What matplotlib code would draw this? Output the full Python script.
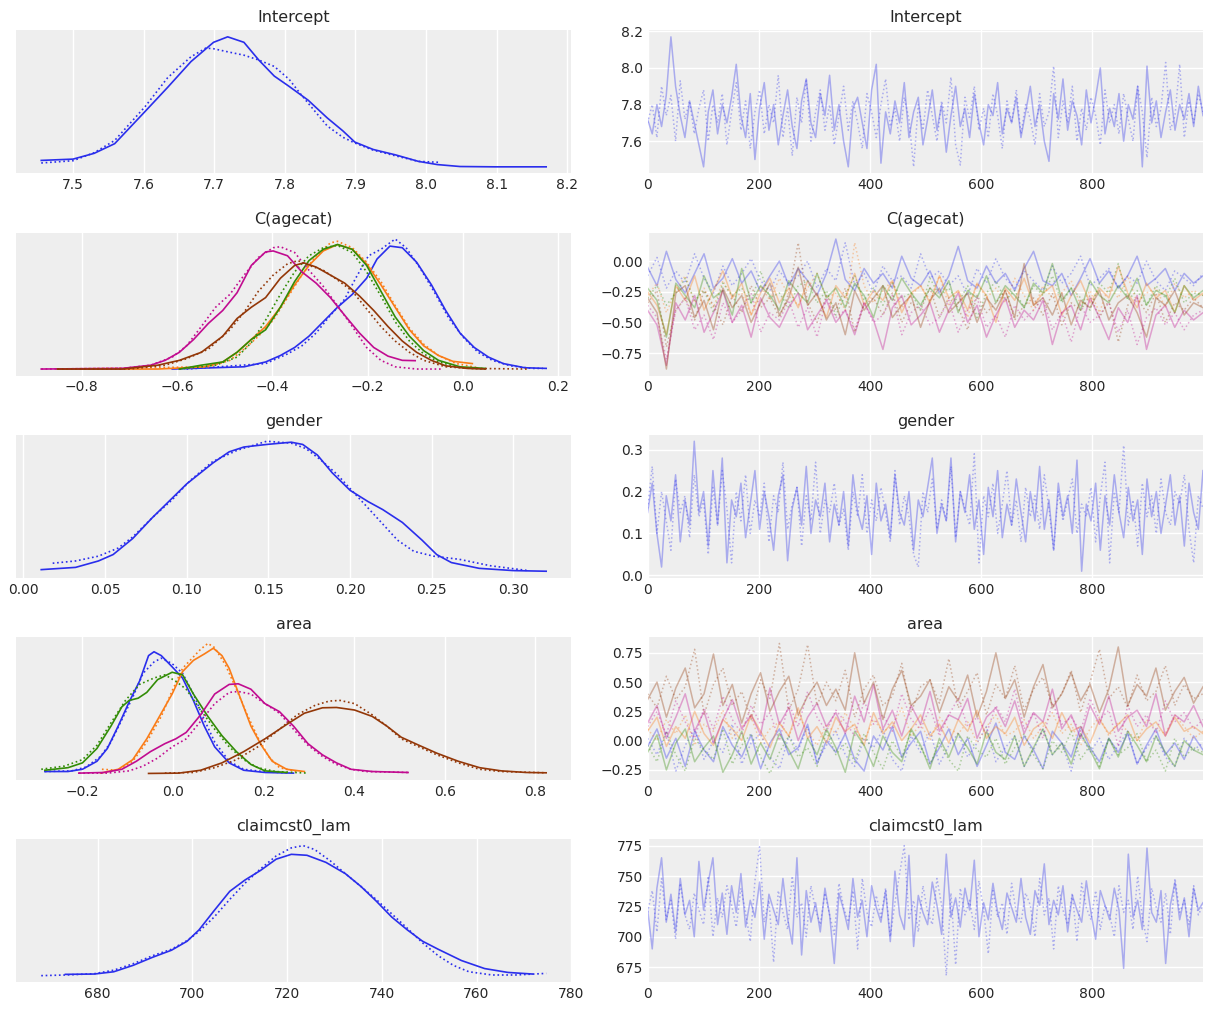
import numpy as np
import matplotlib.pyplot as plt

# arviz-like colour cycle, one colour per coordinate of a variable
colors = ["#2a2eec", "#fa7c17", "#328c06", "#c10c90", "#933708"]
titles = ["Intercept", "C(agecat)", "gender", "area", "claimcst0_lam"]

# ---------------- KDE curves (left column), [chain0, chain1] per coordinate ----------------
intercept_kde_x = [[
    [7.455, 7.500, 7.530, 7.559, 7.602, 7.634, 7.667, 7.699, 7.719, 7.742, 7.763, 7.785,
     7.806, 7.833, 7.860, 7.882, 7.899, 7.925, 7.957, 7.989, 8.016, 8.048, 8.097, 8.170],
    [7.455, 7.500, 7.530, 7.559, 7.602, 7.634, 7.667, 7.688, 7.699, 7.720, 7.742, 7.763,
     7.785, 7.806, 7.822, 7.839, 7.860, 7.882, 7.899, 7.925, 7.957, 7.989, 8.019],
]]
intercept_kde_y = [[
    [45, 49, 67, 97, 197, 272, 352, 412, 429, 412, 357, 307,
     275, 232, 177, 137, 102, 79, 62, 42, 32, 26, 25, 25],
    [37, 44, 69, 107, 212, 302, 367, 394, 392, 382, 372, 357,
     337, 297, 252, 207, 152, 117, 99, 77, 59, 42, 39],
]]

agecat_kde_x = [
    [[-0.610, -0.459, -0.414, -0.383, -0.353, -0.323, -0.293, -0.263, -0.232, -0.202, -0.180,
      -0.153, -0.127, -0.097, -0.066, -0.036, -0.006, 0.024, 0.054, 0.085, 0.130, 0.175],
     [-0.580, -0.414, -0.368, -0.338, -0.308, -0.278, -0.248, -0.225, -0.198, -0.172, -0.142,
      -0.119, -0.089, -0.059, -0.029, 0.002, 0.032, 0.062, 0.100, 0.145, 0.168]],
    [[-0.851, -0.640, -0.542, -0.504, -0.474, -0.444, -0.414, -0.383, -0.353, -0.323, -0.293,
      -0.263, -0.232, -0.202, -0.172, -0.142, -0.112, -0.082, -0.051, -0.021, 0.020],
     [-0.851, -0.534, -0.489, -0.459, -0.429, -0.398, -0.368, -0.338, -0.308, -0.278, -0.263,
      -0.232, -0.202, -0.172, -0.142, -0.112, -0.082, -0.051, -0.014, 0.032]],
    [[-0.595, -0.549, -0.504, -0.474, -0.444, -0.414, -0.383, -0.353, -0.323, -0.293, -0.263,
      -0.232, -0.202, -0.172, -0.142, -0.112, -0.082, -0.051, -0.006, 0.047],
     [-0.595, -0.519, -0.474, -0.444, -0.414, -0.383, -0.353, -0.323, -0.293, -0.263, -0.232,
      -0.202, -0.172, -0.142, -0.112, -0.082, -0.051, -0.006, 0.047]],
    [[-0.885, -0.715, -0.655, -0.625, -0.595, -0.565, -0.534, -0.504, -0.474, -0.444, -0.414,
      -0.398, -0.368, -0.338, -0.308, -0.278, -0.248, -0.217, -0.187, -0.157, -0.127, -0.100],
     [-0.885, -0.715, -0.655, -0.610, -0.580, -0.549, -0.519, -0.489, -0.459, -0.429, -0.398,
      -0.383, -0.353, -0.323, -0.293, -0.263, -0.232, -0.202, -0.172, -0.142, -0.097, -0.044]],
    [[-0.851, -0.715, -0.640, -0.595, -0.549, -0.504, -0.474, -0.444, -0.414, -0.383, -0.353,
      -0.334, -0.308, -0.278, -0.248, -0.217, -0.187, -0.157, -0.127, -0.097, -0.066, -0.036,
      0.009, 0.047],
     [-0.851, -0.700, -0.625, -0.580, -0.534, -0.489, -0.459, -0.429, -0.398, -0.368, -0.346,
      -0.323, -0.293, -0.263, -0.232, -0.202, -0.172, -0.142, -0.112, -0.082, -0.036, 0.017,
      0.137]],
]
agecat_kde_y = [
    [[23, 30, 45, 65, 90, 125, 170, 215, 255, 305, 365, 405, 400, 355, 285, 205, 135, 90, 60, 40, 27, 25],
     [23, 40, 70, 95, 135, 190, 240, 305, 375, 395, 427, 400, 335, 260, 180, 120, 75, 50, 33, 25, 25]],
    [[23, 23, 30, 45, 75, 115, 155, 215, 285, 345, 390, 410, 395, 350, 285, 215, 145, 95, 65, 47, 40],
     [23, 30, 50, 85, 125, 175, 245, 315, 375, 415, 420, 400, 355, 295, 220, 150, 100, 65, 40, 27]],
    [[23, 35, 45, 75, 115, 145, 215, 295, 360, 395, 410, 395, 345, 265, 185, 125, 80, 50, 30, 25],
     [23, 35, 60, 105, 175, 255, 325, 375, 400, 407, 385, 325, 250, 170, 110, 70, 45, 27, 23]],
    [[23, 25, 35, 50, 75, 115, 165, 205, 260, 345, 387, 390, 375, 325, 290, 245, 190, 135, 90, 63, 50, 49],
     [23, 25, 35, 60, 95, 155, 215, 255, 315, 370, 400, 403, 385, 330, 280, 220, 155, 90, 50, 30, 23, 23]],
    [[23, 23, 35, 50, 75, 125, 180, 215, 245, 305, 345, 353, 340, 315, 290, 250, 205, 155, 110, 75, 50, 33, 25, 23],
     [23, 23, 35, 55, 85, 145, 200, 265, 315, 350, 360, 345, 330, 300, 265, 210, 155, 110, 75, 50, 30, 25, 23]],
]

gender_kde_x = [[
    [0.011, 0.032, 0.046, 0.055, 0.067, 0.079, 0.091, 0.100, 0.116, 0.126, 0.135, 0.149, 0.164,
     0.171, 0.180, 0.189, 0.200, 0.211, 0.220, 0.232, 0.244, 0.253, 0.262, 0.279, 0.300, 0.320],
    [0.018, 0.032, 0.046, 0.058, 0.067, 0.079, 0.091, 0.102, 0.116, 0.131, 0.149, 0.164, 0.173,
     0.182, 0.192, 0.201, 0.211, 0.220, 0.229, 0.239, 0.251, 0.267, 0.286, 0.309],
]]
gender_kde_y = [[
    [28, 35, 55, 75, 125, 190, 250, 295, 360, 395, 410, 418, 425,
     418, 385, 330, 275, 240, 215, 175, 120, 75, 50, 32, 25, 23],
    [48, 55, 70, 95, 130, 190, 245, 305, 365, 400, 428, 422, 405,
     370, 325, 275, 220, 170, 120, 85, 70, 60, 40, 25],
]]

area_kde_x = [
    [[-0.283, -0.232, -0.200, -0.168, -0.145, -0.121, -0.097, -0.074, -0.054, -0.042, -0.026,
      -0.002, 0.021, 0.045, 0.069, 0.092, 0.124, 0.156, 0.203, 0.266],
     [-0.283, -0.224, -0.192, -0.160, -0.137, -0.113, -0.089, -0.066, -0.042, -0.026, -0.002,
      0.021, 0.045, 0.069, 0.092, 0.124, 0.156, 0.203, 0.251]],
    [[-0.160, -0.121, -0.089, -0.058, -0.026, -0.002, 0.021, 0.045, 0.069, 0.089, 0.108,
      0.124, 0.140, 0.156, 0.172, 0.195, 0.219, 0.251, 0.290],
     [-0.157, -0.121, -0.089, -0.058, -0.026, -0.002, 0.021, 0.041, 0.061, 0.077, 0.092,
      0.116, 0.140, 0.164, 0.187, 0.211, 0.235, 0.274]],
    [[-0.283, -0.232, -0.200, -0.168, -0.137, -0.113, -0.097, -0.077, -0.058, -0.034, -0.002,
      0.021, 0.045, 0.077, 0.108, 0.140, 0.172, 0.203, 0.251],
     [-0.291, -0.240, -0.200, -0.168, -0.137, -0.105, -0.074, -0.042, -0.018, 0.006, 0.029,
      0.061, 0.092, 0.124, 0.156, 0.187, 0.227, 0.298]],
    [[-0.208, -0.153, -0.113, -0.081, -0.050, -0.018, 0.006, 0.029, 0.061, 0.092, 0.124,
      0.144, 0.172, 0.203, 0.235, 0.266, 0.298, 0.330, 0.361, 0.393, 0.440, 0.519],
     [-0.208, -0.145, -0.097, -0.066, -0.034, -0.002, 0.029, 0.061, 0.092, 0.124, 0.144,
      0.172, 0.203, 0.235, 0.266, 0.298, 0.330, 0.361, 0.393, 0.425, 0.519]],
    [[-0.054, 0.013, 0.061, 0.108, 0.156, 0.203, 0.251, 0.290, 0.330, 0.361, 0.401,
      0.440, 0.472, 0.504, 0.543, 0.583, 0.630, 0.677, 0.725, 0.780, 0.824],
     [-0.018, 0.045, 0.092, 0.140, 0.187, 0.235, 0.274, 0.314, 0.345, 0.369, 0.401,
      0.440, 0.472, 0.504, 0.543, 0.583, 0.630, 0.677, 0.725, 0.824]],
]
area_kde_y = [
    [[28, 28, 35, 60, 100, 170, 245, 310, 390, 402, 390, 355, 320, 250, 170, 105, 55, 32, 25, 23],
     [28, 30, 42, 75, 120, 190, 260, 335, 370, 382, 365, 335, 270, 190, 120, 60, 35, 27, 24]],
    [[23, 35, 65, 130, 210, 270, 340, 375, 395, 413, 390, 350, 290, 230, 170, 110, 60, 35, 28],
     [35, 32, 60, 120, 200, 280, 350, 380, 410, 428, 415, 360, 285, 205, 135, 75, 40, 28]],
    [[32, 40, 55, 100, 170, 230, 250, 257, 275, 315, 338, 330, 270, 200, 140, 90, 50, 30, 25],
     [35, 45, 65, 110, 180, 250, 300, 320, 330, 310, 285, 220, 160, 105, 65, 40, 28, 23]],
    [[23, 25, 35, 60, 90, 115, 130, 150, 205, 270, 300, 302, 285, 240, 215, 170, 115, 80, 55, 35, 28, 25],
     [23, 23, 30, 45, 70, 105, 130, 185, 240, 275, 278, 270, 240, 210, 160, 110, 75, 50, 35, 28, 25]],
    [[22, 23, 32, 55, 90, 130, 175, 210, 227, 228, 220, 200, 170, 135, 110, 85, 60, 40, 30, 25, 24],
     [23, 25, 40, 65, 105, 160, 205, 235, 248, 250, 240, 205, 170, 130, 105, 80, 55, 35, 28, 24]],
]

claim_kde_x = [[
    [673.2, 679.3, 683.4, 687.5, 691.6, 695.6, 698.9, 701.4, 704.6, 707.9, 711.1, 714.4, 717.7, 720.9,
     724.2, 728.2, 732.3, 735.6, 738.8, 742.1, 745.4, 748.6, 751.9, 756.8, 761.7, 766.6, 771.8],
    [668.1, 673.2, 679.3, 683.4, 687.5, 691.6, 695.6, 698.9, 701.4, 704.6, 707.9, 711.1, 714.4, 717.7,
     720.9, 723.4, 725.8, 729.1, 732.3, 735.6, 738.8, 742.1, 745.4, 748.6, 751.9, 755.1, 758.4, 763.3,
     768.2, 774.7],
]]
claim_kde_y = [[
    [27, 28, 35, 55, 80, 102, 130, 165, 225, 285, 320, 350, 385, 400,
     397, 375, 340, 300, 255, 205, 165, 130, 105, 70, 45, 33, 28],
    [23, 25, 29, 40, 60, 85, 105, 132, 160, 205, 260, 310, 355, 395,
     420, 427, 415, 380, 340, 300, 260, 215, 170, 125, 85, 55, 35, 25, 25, 30],
]]

# ---------------- traces (right column), [chain0, chain1] per coordinate ----------------
intercept_trace = [[
    [7.72, 7.64, 7.80, 7.68, 7.85, 8.17, 7.90, 7.74, 7.62, 7.82, 7.70, 7.58, 7.46, 7.76, 7.88, 7.64, 7.80, 7.70, 7.84, 8.02,
     7.74, 7.62, 7.86, 7.50, 7.78, 7.92, 7.66, 7.80, 7.58, 7.74, 7.88, 7.68, 7.56, 7.82, 7.94, 7.70, 7.62, 7.86, 7.74, 7.96,
     7.66, 7.80, 7.60, 7.46, 7.78, 7.84, 7.70, 7.56, 7.88, 8.02, 7.48, 7.76, 7.64, 7.82, 7.70, 7.92, 7.62, 7.76, 7.84, 7.58,
     7.72, 7.88, 7.66, 7.80, 7.54, 7.74, 7.90, 7.68, 7.78, 7.62, 7.86, 7.70, 7.58, 7.80, 7.74, 7.92, 7.64, 7.78, 7.70, 7.84,
     7.62, 7.76, 7.90, 7.68, 7.80, 7.60, 7.49, 7.86, 7.72, 7.94, 7.66, 7.82, 7.74, 7.58, 7.88, 7.70, 7.84, 8.00, 7.64, 7.78,
     7.68, 7.86, 7.60, 7.80, 7.72, 7.90, 7.46, 8.01, 7.70, 7.82, 7.62, 7.76, 7.88, 7.66, 7.80, 7.72, 7.86, 7.68, 7.90, 7.74],
    [7.70, 7.80, 7.62, 7.90, 7.74, 7.85, 7.60, 7.93, 7.72, 7.82, 7.64, 7.78, 7.88, 7.60, 7.80, 7.70, 7.86, 7.58, 7.76, 7.92,
     7.66, 7.82, 7.56, 7.76, 7.88, 7.64, 7.80, 7.70, 7.96, 7.62, 7.78, 7.52, 7.84, 7.70, 7.94, 7.60, 7.76, 7.88, 7.66, 7.80,
     7.58, 7.74, 7.90, 7.66, 7.82, 7.70, 7.56, 7.86, 7.76, 7.62, 7.80, 7.94, 7.68, 7.78, 7.60, 7.84, 7.72, 7.46, 7.80, 7.66,
     7.88, 7.74, 7.60, 7.82, 7.70, 7.95, 7.58, 7.47, 7.84, 7.72, 7.90, 7.66, 7.78, 7.62, 7.86, 7.74, 7.56, 7.82, 7.70, 7.88,
     7.64, 7.80, 7.72, 7.58, 7.86, 7.68, 7.76, 8.01, 7.62, 7.82, 7.70, 7.90, 7.60, 7.78, 7.66, 7.84, 7.74, 7.58, 7.88, 7.70,
     7.80, 7.64, 7.86, 7.72, 7.60, 7.90, 7.76, 7.51, 7.84, 7.68, 7.78, 8.03, 7.66, 7.74, 8.02, 7.62, 7.82, 7.70, 7.86, 7.76],
]]

agecat_trace = [
    [[-0.05, -0.20, 0.08, -0.15, -0.26, -0.10, 0.06, -0.22, -0.14, 0.02, -0.18, -0.08, -0.25, -0.12, 0.00,
      -0.20, -0.06, -0.16, -0.28, -0.10, 0.18, -0.15, -0.24, -0.06, -0.18, -0.10, -0.22, 0.04, -0.14, -0.20,
      -0.08, -0.26, -0.12, 0.12, -0.16, -0.22, -0.04, -0.18, -0.10, -0.24, -0.06, 0.08, -0.16, -0.20, -0.10,
      -0.28, -0.14, 0.02, -0.18, -0.08, -0.22, -0.12, 0.04, -0.20, -0.14, -0.06, -0.24, -0.10, -0.18, -0.12],
     [-0.12, 0.03, -0.22, -0.08, -0.18, 0.06, -0.14, -0.26, -0.04, -0.20, -0.10, 0.02, -0.16, -0.24, -0.08,
      -0.18, -0.12, 0.00, -0.22, -0.06, -0.16, 0.15, -0.20, -0.10, -0.26, -0.04, -0.16, -0.12, -0.22, 0.06,
      -0.14, -0.08, -0.20, -0.12, -0.28, -0.06, -0.18, 0.02, -0.14, -0.22, -0.08, -0.16, -0.24, -0.04, -0.18,
      -0.10, 0.04, -0.20, -0.14, -0.06, -0.22, -0.12, -0.18, 0.00, -0.16, -0.24, -0.08, -0.14, -0.20, -0.10]],
    [[-0.25, -0.36, -0.60, -0.20, -0.32, -0.12, -0.40, -0.24, -0.08, -0.30, -0.18, -0.44, -0.26, -0.14, -0.34,
      -0.22, -0.38, -0.16, -0.28, -0.46, -0.20, -0.30, -0.10, -0.36, -0.24, -0.32, -0.16, -0.42, -0.26, -0.20,
      -0.34, -0.12, -0.30, -0.24, -0.40, -0.18, -0.28, -0.50, -0.22, -0.32, -0.14, -0.36, -0.26, -0.20, -0.44,
      -0.28, -0.16, -0.34, -0.22, -0.30, -0.04, -0.26, -0.38, -0.18, -0.30, -0.24, -0.42, -0.20, -0.32, -0.26],
     [-0.28, -0.18, -0.42, -0.24, -0.12, -0.34, -0.22, -0.38, -0.16, -0.30, -0.26, -0.44, -0.20, -0.32, -0.14,
      -0.28, -0.36, -0.22, -0.10, -0.30, -0.26, -0.40, 0.15, -0.20, -0.34, -0.24, -0.16, -0.38, -0.28, -0.20,
      -0.32, -0.12, -0.36, -0.24, -0.46, -0.18, -0.30, -0.22, -0.34, -0.14, -0.28, -0.40, -0.20, -0.30, -0.26,
      -0.16, -0.36, -0.24, -0.42, -0.20, -0.30, -0.12, -0.34, -0.26, -0.22, -0.38, -0.18, -0.30, -0.24, -0.28]],
    [[-0.22, -0.32, -0.62, -0.18, -0.28, -0.38, -0.12, -0.30, -0.24, -0.44, -0.06, -0.34, -0.20, -0.28, -0.40,
      -0.16, -0.26, -0.34, -0.10, -0.30, -0.22, -0.38, -0.18, -0.28, -0.46, -0.20, -0.32, -0.14, -0.26, -0.36,
      -0.22, -0.30, -0.16, -0.42, -0.24, -0.30, -0.12, -0.34, -0.20, -0.28, -0.38, -0.18, -0.26, -0.02, -0.32,
      -0.22, -0.40, -0.16, -0.28, -0.34, -0.20, -0.30, -0.14, -0.36, -0.24, -0.28, -0.42, -0.20, -0.30, -0.24],
     [-0.30, -0.20, -0.36, -0.26, -0.14, -0.32, -0.24, -0.42, -0.18, -0.28, -0.22, -0.34, -0.08, -0.30, -0.26,
      -0.38, -0.20, -0.16, -0.34, -0.24, -0.44, -0.28, -0.12, -0.32, -0.22, -0.36, -0.18, -0.30, -0.26, -0.40,
      -0.14, -0.28, -0.22, -0.34, -0.20, -0.46, -0.26, -0.16, -0.32, -0.24, -0.38, -0.20, -0.28, -0.12, -0.34,
      -0.22, -0.30, -0.40, -0.18, -0.26, -0.02, -0.32, -0.24, -0.36, -0.20, -0.30, -0.14, -0.34, -0.26, -0.28]],
    [[-0.40, -0.52, -0.85, -0.34, -0.48, -0.28, -0.58, -0.42, -0.24, -0.50, -0.36, -0.62, -0.30, -0.46, -0.54,
      -0.38, -0.26, -0.56, -0.44, -0.32, -0.50, -0.40, -0.60, -0.34, -0.48, -0.72, -0.38, -0.28, -0.52, -0.44,
      -0.34, -0.58, -0.40, -0.26, -0.50, -0.36, -0.62, -0.44, -0.30, -0.54, -0.40, -0.48, -0.32, -0.68, -0.42,
      -0.36, -0.56, -0.30, -0.46, -0.64, -0.38, -0.50, -0.28, -0.72, -0.44, -0.36, -0.54, -0.40, -0.48, -0.42],
     [-0.36, -0.46, -0.80, -0.40, -0.30, -0.56, -0.44, -0.64, -0.34, -0.50, -0.40, -0.26, -0.58, -0.42, -0.48,
      -0.32, -0.54, -0.38, -0.62, -0.30, -0.46, -0.40, -0.56, -0.34, -0.50, -0.44, -0.28, -0.60, -0.42, -0.36,
      -0.52, -0.46, -0.32, -0.58, -0.40, -0.30, -0.54, -0.44, -0.62, -0.36, -0.48, -0.40, -0.30, -0.56, -0.42,
      -0.66, -0.36, -0.50, -0.44, -0.34, -0.58, -0.40, -0.68, -0.46, -0.38, -0.52, -0.42, -0.56, -0.44, -0.40]],
    [[-0.30, -0.42, -0.88, -0.26, -0.20, -0.46, -0.32, -0.56, -0.22, -0.38, -0.28, -0.50, -0.34, -0.18, -0.44,
      -0.30, -0.05, -0.36, -0.26, -0.48, -0.34, -0.60, -0.24, -0.40, -0.30, -0.20, -0.46, -0.36, -0.28, -0.54,
      -0.32, -0.22, -0.42, -0.34, -0.26, -0.50, -0.30, -0.40, -0.24, -0.46, -0.02, -0.36, -0.30, -0.44, -0.26,
      -0.52, -0.32, -0.38, -0.24, -0.48, -0.34, -0.28, -0.42, -0.62, -0.30, -0.36, -0.24, -0.44, -0.34, -0.38],
     [-0.34, -0.24, -0.70, -0.40, -0.30, -0.48, -0.24, -0.36, -0.52, -0.28, -0.42, -0.20, -0.38, -0.30, -0.46,
      -0.26, 0.15, -0.34, -0.50, -0.28, -0.40, -0.22, -0.58, -0.36, -0.30, -0.44, -0.26, -0.50, -0.34, -0.40,
      -0.22, -0.46, -0.30, -0.38, -0.56, -0.28, -0.42, -0.34, -0.24, -0.48, -0.36, -0.30, -0.44, -0.26, -0.52,
      -0.34, -0.40, -0.28, -0.46, -0.32, -0.66, -0.36, -0.30, -0.42, -0.26, -0.50, -0.34, -0.40, -0.30, -0.38]],
]

gender_trace = [[
    [0.15, 0.22, 0.10, 0.02, 0.19, 0.13, 0.24, 0.08, 0.18, 0.12, 0.32, 0.15, 0.20, 0.07, 0.25, 0.12, 0.28, 0.03, 0.18, 0.14,
     0.22, 0.09, 0.17, 0.25, 0.11, 0.20, 0.14, 0.06, 0.19, 0.24, 0.035, 0.16, 0.21, 0.12, 0.26, 0.10, 0.18, 0.14, 0.22, 0.08,
     0.17, 0.12, 0.20, 0.07, 0.24, 0.15, 0.11, 0.19, 0.05, 0.22, 0.13, 0.17, 0.09, 0.24, 0.15, 0.12, 0.20, 0.06, 0.18, 0.14,
     0.21, 0.28, 0.10, 0.17, 0.13, 0.28, 0.08, 0.20, 0.15, 0.24, 0.11, 0.18, 0.05, 0.21, 0.14, 0.25, 0.09, 0.17, 0.12, 0.23,
     0.15, 0.08, 0.20, 0.13, 0.26, 0.11, 0.18, 0.06, 0.22, 0.14, 0.19, 0.10, 0.275, 0.01, 0.17, 0.13, 0.22, 0.06, 0.19, 0.12,
     0.24, 0.15, 0.09, 0.21, 0.13, 0.18, 0.05, 0.23, 0.14, 0.20, 0.10, 0.17, 0.24, 0.12, 0.19, 0.07, 0.22, 0.15, 0.11, 0.25],
    [0.16, 0.26, 0.10, 0.20, 0.13, 0.06, 0.23, 0.15, 0.19, 0.09, 0.24, 0.14, 0.18, 0.05, 0.21, 0.12, 0.25, 0.16, 0.03, 0.20,
     0.13, 0.24, 0.10, 0.18, 0.14, 0.22, 0.08, 0.19, 0.15, 0.27, 0.11, 0.17, 0.21, 0.07, 0.19, 0.13, 0.27, 0.10, 0.18, 0.15,
     0.22, 0.12, 0.16, 0.06, 0.20, 0.14, 0.24, 0.10, 0.18, 0.13, 0.21, 0.15, 0.08, 0.25, 0.12, 0.19, 0.14, 0.05, 0.02, 0.20,
     0.15, 0.23, 0.11, 0.18, 0.13, 0.26, 0.09, 0.20, 0.16, 0.12, 0.29, 0.03, 0.19, 0.14, 0.22, 0.10, 0.17, 0.25, 0.12, 0.18,
     0.08, 0.21, 0.14, 0.19, 0.11, 0.24, 0.16, 0.06, 0.20, 0.13, 0.18, 0.23, 0.10, 0.17, 0.14, 0.21, 0.08, 0.19, 0.27, 0.03,
     0.20, 0.15, 0.31, 0.12, 0.18, 0.07, 0.22, 0.14, 0.19, 0.10, 0.23, 0.15, 0.12, 0.20, 0.17, 0.24, 0.11, 0.03, 0.19, 0.16],
]]

area_trace = [
    [[-0.05, 0.10, -0.15, 0.02, -0.22, 0.08, -0.08, -0.18, 0.12, -0.04, -0.14, 0.05, -0.24, -0.02, 0.10,
      -0.12, -0.06, 0.14, -0.20, 0.00, -0.10, 0.06, -0.16, -0.26, 0.04, -0.08, 0.12, -0.14, -0.02, 0.08,
      -0.20, -0.06, 0.10, -0.12, 0.02, -0.22, -0.04, 0.15, -0.10, -0.16, 0.04, -0.08, -0.24, 0.08, -0.02,
      -0.14, 0.12, -0.06, -0.18, 0.02, -0.10, 0.06, -0.20, -0.04, 0.10, -0.12, -0.02, -0.16, 0.04, -0.08],
     [0.02, -0.12, 0.08, -0.26, -0.04, 0.10, -0.16, 0.00, -0.10, 0.14, -0.20, -0.02, 0.06, -0.14, -0.24,
      0.04, -0.08, 0.12, -0.18, -0.04, 0.08, -0.12, -0.22, 0.02, -0.06, 0.10, -0.16, -0.26, 0.04, -0.10,
      0.08, -0.20, -0.04, 0.06, -0.14, -0.02, 0.12, -0.18, -0.06, 0.04, -0.22, -0.08, 0.10, -0.12, -0.02,
      -0.26, 0.06, -0.10, 0.02, -0.16, -0.04, 0.08, -0.20, -0.06, 0.04, -0.14, -0.22, 0.02, -0.08, -0.02]],
    [[0.08, 0.20, -0.05, 0.12, 0.02, 0.25, 0.06, -0.04, 0.18, 0.10, 0.00, 0.22, 0.08, -0.06, 0.15,
      0.04, 0.28, 0.02, 0.12, -0.02, 0.20, 0.08, 0.14, -0.04, 0.24, 0.06, 0.16, 0.00, 0.10, 0.22,
      0.04, 0.14, -0.02, 0.18, 0.08, 0.26, 0.02, 0.12, 0.06, 0.20, -0.04, 0.10, 0.16, 0.02, 0.24,
      0.08, 0.12, -0.02, 0.18, 0.06, 0.14, 0.22, 0.00, 0.10, 0.16, 0.04, 0.20, 0.08, 0.12, 0.06],
     [0.10, 0.00, 0.18, 0.06, 0.22, -0.04, 0.14, 0.08, 0.26, 0.02, 0.12, 0.20, -0.02, 0.10, 0.16,
      0.04, 0.22, 0.08, -0.04, 0.14, 0.06, 0.24, 0.10, 0.00, 0.18, 0.08, 0.12, 0.28, 0.04, 0.14,
      0.00, 0.20, 0.10, 0.06, 0.16, -0.02, 0.12, 0.22, 0.04, 0.08, 0.18, 0.02, 0.12, 0.24, 0.06,
      0.14, -0.04, 0.10, 0.20, 0.04, 0.16, 0.08, 0.00, 0.18, 0.10, 0.06, 0.22, 0.12, 0.02, 0.08]],
    [[-0.10, 0.05, -0.25, -0.02, 0.10, -0.18, -0.06, 0.04, -0.27, -0.12, 0.08, -0.20, -0.02, -0.16, 0.06,
      -0.08, -0.24, 0.02, -0.12, 0.10, -0.06, -0.27, 0.08, -0.04, -0.22, 0.04, -0.10, -0.18, 0.10, -0.04,
      -0.24, 0.02, -0.14, 0.06, -0.06, -0.20, 0.08, -0.10, -0.16, 0.04, -0.22, -0.06, 0.10, -0.12, -0.02,
      -0.20, 0.06, -0.08, -0.24, 0.02, -0.14, 0.08, -0.04, -0.18, 0.04, -0.10, -0.22, 0.00, -0.08, -0.12],
     [-0.04, -0.18, 0.08, -0.12, -0.26, 0.02, -0.08, -0.16, 0.10, -0.20, -0.04, 0.06, -0.14, -0.28, -0.10,
      0.04, -0.14, -0.06, -0.22, 0.08, -0.12, -0.02, -0.18, 0.06, -0.10, -0.24, 0.00, -0.14, 0.08, -0.06,
      -0.20, -0.02, -0.16, -0.26, 0.04, -0.08, -0.14, 0.02, -0.20, -0.06, 0.06, -0.12, -0.24, 0.00, -0.10,
      0.08, -0.16, -0.04, -0.22, 0.02, -0.12, -0.06, 0.06, -0.18, -0.08, -0.26, 0.02, -0.14, -0.06, -0.10]],
    [[0.15, 0.30, 0.02, 0.20, 0.40, 0.08, 0.25, -0.02, 0.18, 0.35, 0.10, 0.22, 0.05, 0.45, 0.14,
      0.28, 0.00, 0.20, 0.32, 0.12, 0.24, 0.06, 0.38, 0.16, 0.48, 0.10, 0.26, 0.04, 0.30, 0.14,
      0.42, 0.08, 0.22, 0.18, 0.36, 0.02, 0.20, 0.28, 0.12, 0.34, 0.06, 0.24, 0.16, 0.44, 0.10,
      0.22, 0.02, 0.30, 0.14, 0.38, 0.08, 0.20, 0.26, 0.12, 0.40, 0.04, 0.22, 0.16, 0.30, 0.12],
     [0.12, 0.25, 0.05, 0.34, 0.16, 0.02, 0.28, 0.10, 0.38, 0.18, 0.06, 0.30, 0.14, 0.24, 0.00,
      0.32, 0.12, 0.42, 0.20, 0.08, 0.26, 0.16, 0.04, 0.34, 0.14, 0.22, 0.08, 0.40, 0.18, 0.10,
      0.28, 0.04, 0.22, 0.36, 0.12, 0.20, 0.06, 0.30, 0.16, 0.44, 0.10, 0.24, 0.02, 0.32, 0.14,
      0.20, 0.08, 0.36, 0.18, 0.26, -0.05, 0.30, 0.12, 0.22, 0.06, 0.34, 0.16, 0.24, 0.10, 0.18]],
    [[0.35, 0.50, 0.20, 0.45, 0.62, 0.28, 0.40, 0.74, 0.30, 0.48, 0.15, 0.40, 0.58, 0.25, 0.42,
      0.55, 0.22, 0.38, 0.50, 0.30, 0.44, 0.26, 0.75, 0.32, 0.50, 0.18, 0.44, 0.60, 0.30, 0.38,
      0.52, 0.24, 0.46, 0.34, 0.56, 0.20, 0.42, 0.75, 0.36, 0.52, 0.20, 0.46, 0.65, 0.28, 0.40,
      0.58, 0.34, 0.48, 0.24, 0.44, 0.80, 0.30, 0.48, 0.38, 0.62, 0.26, 0.42, 0.54, 0.32, 0.46],
     [0.40, 0.28, 0.55, 0.35, 0.46, 0.78, 0.22, 0.48, 0.62, 0.30, 0.42, 0.18, 0.52, 0.36, 0.83,
      0.26, 0.44, 0.82, 0.30, 0.50, 0.34, 0.60, 0.20, 0.44, 0.56, 0.30, 0.38, 0.66, 0.24, 0.46,
      0.52, 0.32, 0.70, 0.28, 0.42, 0.58, 0.22, 0.48, 0.36, 0.64, 0.26, 0.44, 0.54, 0.30, 0.40,
      0.60, 0.24, 0.50, 0.78, 0.36, 0.46, 0.28, 0.56, 0.34, 0.42, 0.64, 0.30, 0.48, 0.36, 0.40]],
]

claim_trace = [[
    [723, 690, 740, 765, 712, 735, 704, 748, 718, 730, 700, 762, 722, 745, 765, 710, 736, 702, 742, 720,
     752, 708, 730, 716, 745, 698, 735, 722, 710, 748, 715, 694, 765, 685, 738, 712, 728, 704, 740, 718,
     678, 736, 722, 706, 748, 716, 730, 700, 742, 724, 712, 738, 696, 754, 718, 706, 767, 692, 734, 720,
     710, 745, 726, 702, 768, 716, 732, 708, 740, 722, 763, 700, 728, 714, 744, 720, 706, 736, 724, 712,
     748, 716, 702, 738, 726, 760, 710, 730, 718, 742, 704, 734, 722, 712, 746, 720, 698, 738, 726, 714,
     740, 722, 674, 768, 716, 730, 706, 773, 720, 712, 738, 678, 726, 745, 714, 732, 700, 740, 722, 728],
    [720, 738, 704, 748, 714, 730, 698, 744, 718, 706, 736, 722, 710, 750, 700, 732, 716, 742, 726, 708,
     740, 720, 696, 746, 774, 712, 730, 679, 738, 720, 706, 750, 716, 728, 700, 742, 722, 710, 736, 718,
     702, 744, 724, 712, 738, 690, 748, 720, 708, 734, 716, 740, 700, 728, 752, 775, 714, 730, 704, 742,
     720, 710, 748, 726, 668, 736, 677, 740, 718, 730, 706, 746, 722, 686, 738, 716, 728, 702, 744, 720,
     712, 736, 726, 700, 748, 718, 732, 690, 742, 722, 710, 736, 696, 744, 724, 714, 738, 706, 726, 718,
     700, 742, 720, 730, 706, 750, 716, 696, 740, 724, 712, 736, 702, 748, 720, 730, 710, 742, 718, 726],
]]

kde_x = [intercept_kde_x, agecat_kde_x, gender_kde_x, area_kde_x, claim_kde_x]
kde_y = [intercept_kde_y, agecat_kde_y, gender_kde_y, area_kde_y, claim_kde_y]
traces = [intercept_trace, agecat_trace, gender_trace, area_trace, claim_trace]

# arviz-darkgrid look
plt.rcParams.update({
    "axes.facecolor": "#eeeeee",
    "axes.edgecolor": "white",
    "axes.linewidth": 0,
    "axes.grid": True,
    "grid.color": "white",
    "grid.linewidth": 1.0,
    "xtick.major.size": 0,
    "ytick.major.size": 0,
    "xtick.color": ".15",
    "ytick.color": ".15",
    "text.color": ".15",
    "font.family": "DejaVu Sans",
})

fig, axes = plt.subplots(5, 2, figsize=(12.11, 10.11), dpi=100, layout="constrained")
fig.get_layout_engine().set(w_pad=0.08, h_pad=0.1)

chain_styles = ["-", ":"]
for row in range(5):
    ax_kde, ax_tr = axes[row]
    for d in range(len(kde_x[row])):
        for c in range(2):
            ax_kde.plot(kde_x[row][d][c], kde_y[row][d][c], color=colors[d],
                        ls=chain_styles[c], lw=1.2)
            vals = traces[row][d][c]
            draws = np.linspace(0, 999, len(vals))
            ax_tr.plot(draws, vals, color=colors[d], ls=chain_styles[c], lw=1.1, alpha=0.35)
    ax_kde.set_yticks([])
    ax_tr.set_xlim(0, 999)
    for ax in (ax_kde, ax_tr):
        ax.set_title(titles[row], fontsize=11.5)
        ax.tick_params(labelsize=10)
        for s in ax.spines.values():
            s.set_visible(False)

fig.savefig("out.png", dpi=100, facecolor="white")
